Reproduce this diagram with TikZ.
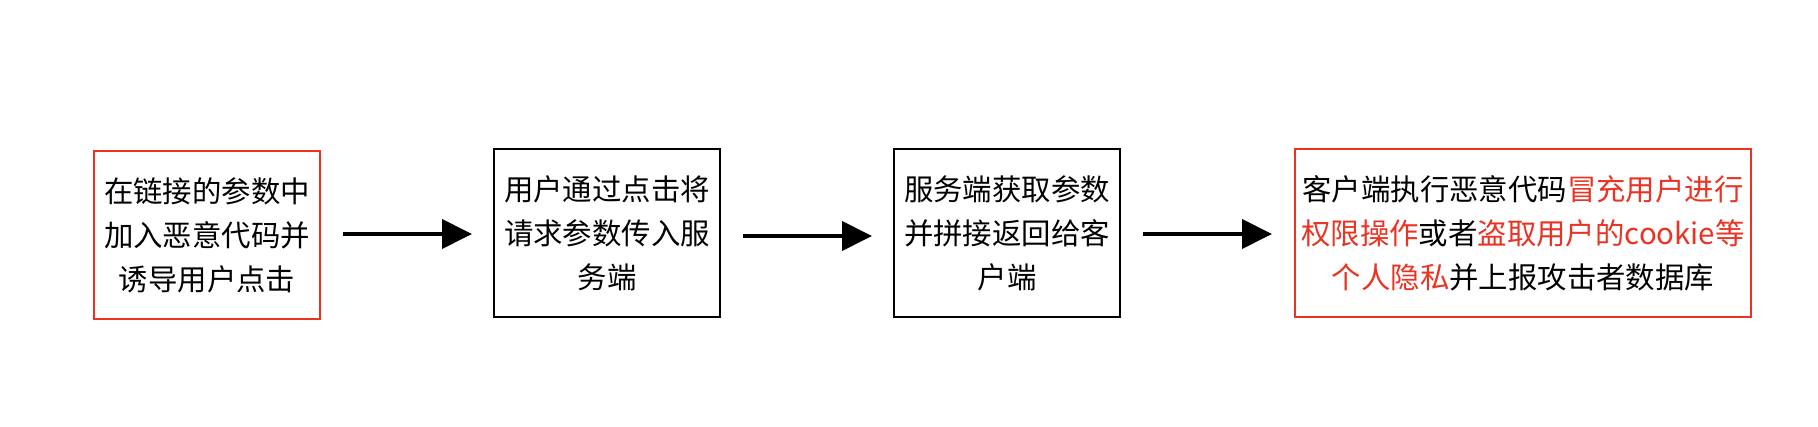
\documentclass[tikz,border=0pt]{standalone}
\usepackage{fontspec}
\newfontfamily\cjk{Noto Sans CJK SC}
\usetikzlibrary{arrows.meta}
\definecolor{myred}{RGB}{234,51,35}
\begin{document}
\begin{tikzpicture}[x=1pt,y=1pt,
  box/.style={draw=black, line width=1.8pt, minimum height=168pt, inner sep=0pt, align=center,
    font=\cjk\fontsize{29.4}{44}\selectfont, text=black},
  redbox/.style={box, draw=myred},
  arr/.style={line width=4pt, -{Triangle[length=30pt,width=29pt]}}]
\fill[white] (0,0) rectangle (1818,426);
\useasboundingbox (0,0) rectangle (1818,426);
\node[redbox, minimum width=226pt] (b1) at (207,191) {在链接的参数中\\加入恶意代码并\\诱导用户点击};
\node[box, minimum width=226pt] (b2) at (607,193) {用户通过点击将\\请求参数传入服\\务端};
\node[box, minimum width=226pt] (b3) at (1007,193) {服务端获取参数\\并拼接返回给客\\户端};
\node[redbox, minimum width=456pt] (b4) at (1523,193) {客户端执行恶意代码\textcolor{myred}{冒充用户进行}\\\textcolor{myred}{权限操作}或者\textcolor{myred}{盗取用户的cookie等}\\\textcolor{myred}{个人隐私}并上报攻击者数据库};
\coordinate (a1s) at (343,192);
\coordinate (a1e) at (472,192);
\coordinate (a2s) at (743,190);
\coordinate (a2e) at (872,190);
\coordinate (a3s) at (1143,192);
\coordinate (a3e) at (1272,192);
\draw[arr] (a1s) -- (a1e);
\draw[arr] (a2s) -- (a2e);
\draw[arr] (a3s) -- (a3e);
\end{tikzpicture}
\end{document}
